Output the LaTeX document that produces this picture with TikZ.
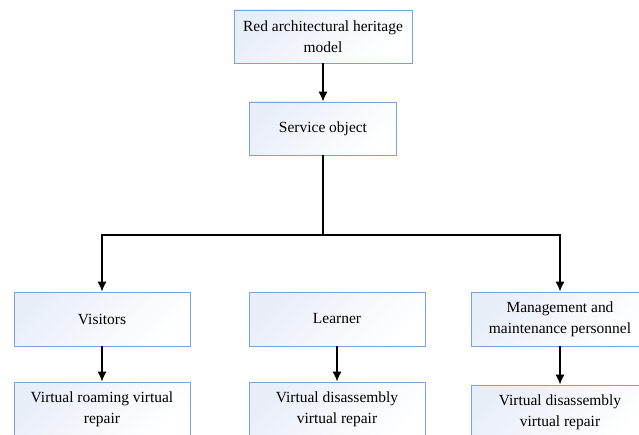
\documentclass[tikz,border=0pt]{standalone}
\usepackage{fontspec}
\setmainfont{Liberation Serif}
\usepackage{tikz}
\usetikzlibrary{arrows.meta}
\definecolor{boxline}{RGB}{120,165,215}
\definecolor{boxfill}{RGB}{232,238,248}
\tikzset{
  blk/.style={draw=boxline, line width=0.7pt, top color=boxfill, bottom color=white,
    shading angle=45, align=center, inner sep=2pt,
    font=\fontsize{11.6}{15.5}\selectfont},
  arr/.style={-{Latex[length=7.5pt,width=7pt]}, line width=1.2pt},
  lnk/.style={line width=1.2pt}
}

\begin{document}
\begin{tikzpicture}[x=0.75pt,y=-0.75pt]
\useasboundingbox (0,0) rectangle (639,435);
\clip (0,0) rectangle (639,435);
% top part
\node[blk, minimum width=133.5pt, minimum height=39.75pt] (model) at (323,36.5) {Red architectural heritage\\model};
\node[blk, minimum width=110.25pt, minimum height=39.75pt] (service) at (323,128.5) {Service object};
\draw[arr] (model) -- (service);
\coordinate (split) at (323,235);
% second row
\node[blk, minimum width=132pt, minimum height=40.5pt] (visitors) at (102,319) {Visitors};
\node[blk, minimum width=132pt, minimum height=40.5pt] (learner) at (337,319) {Learner};
\node[blk, minimum width=133.5pt, minimum height=40.5pt] (staff) at (560,319) {Management and\\maintenance personnel};
\draw[lnk] (service) -- (split);
\draw[arr] (split) -| (visitors);
\draw[arr] (split) -| (staff);
% third row
\node[blk, minimum width=132pt, minimum height=40.5pt] (roam) at (102,409) {Virtual roaming virtual\\repair};
\node[blk, minimum width=132pt, minimum height=40.5pt] (dis1) at (337,409) {Virtual disassembly\\virtual repair};
\node[blk, minimum width=133.5pt, minimum height=40.5pt] (dis2) at (560,412) {Virtual disassembly\\virtual repair};
\draw[arr] (visitors) -- (roam);
\draw[arr] (learner) -- (dis1);
\draw[arr] (staff) -- (dis2);
\end{tikzpicture}
\end{document}
